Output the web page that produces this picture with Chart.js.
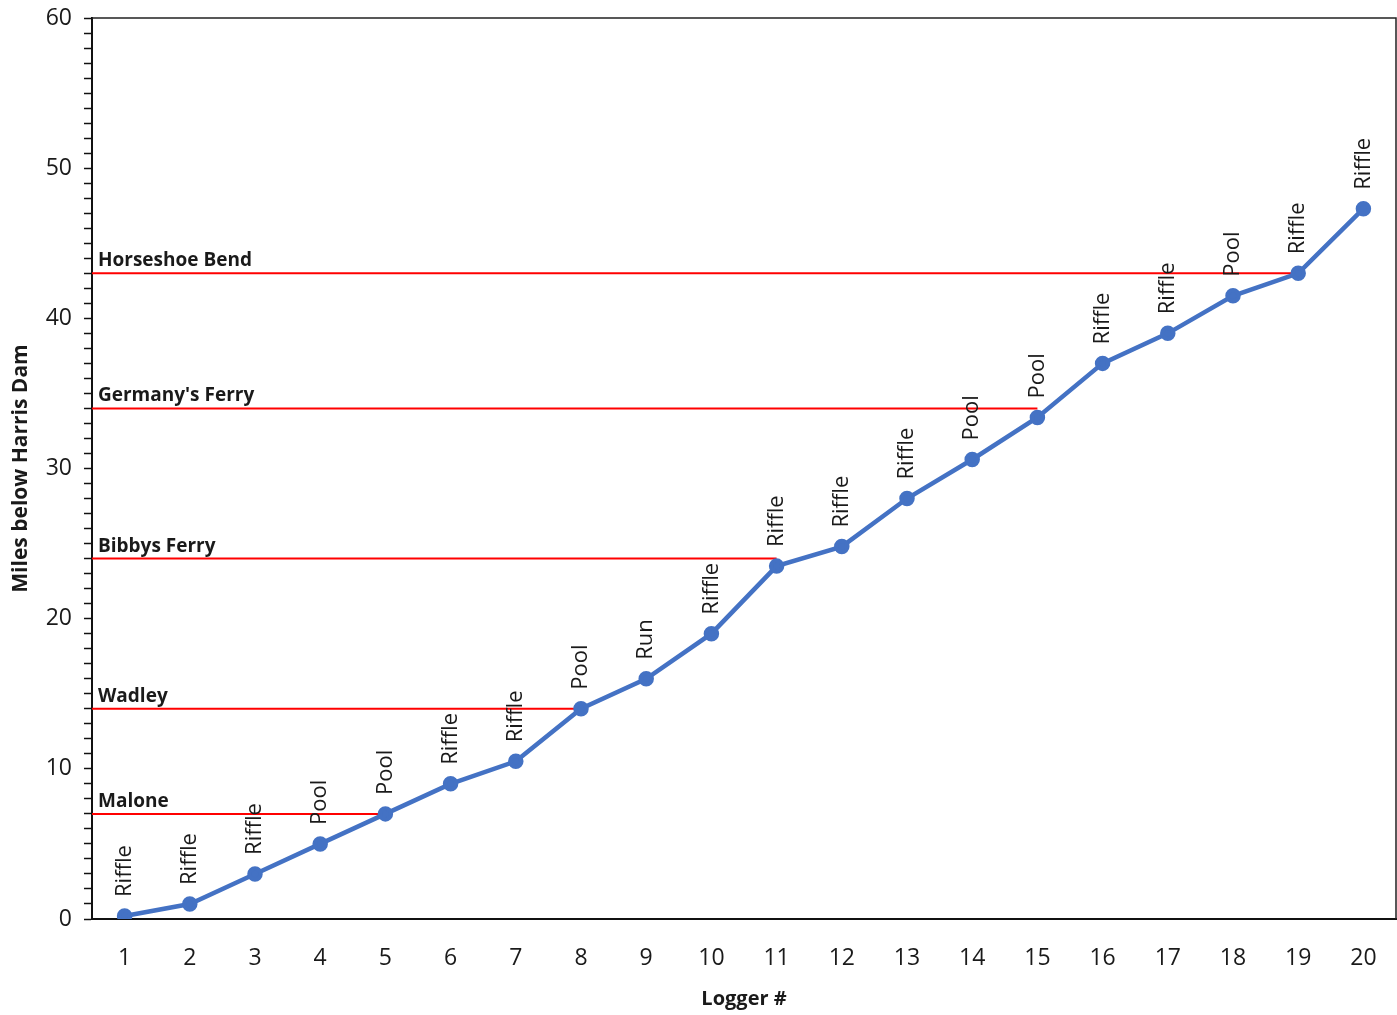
<!DOCTYPE html>
<html>
<head>
<meta charset="utf-8">
<script src="https://cdn.jsdelivr.net/npm/chart.js@4.4.1/dist/chart.umd.min.js"></script>
<style>
  html, body { margin: 0; padding: 0; background: #fff; }
  #wrap { width: 1397px; height: 1015px; }
</style>
</head>
<body>
<div id="wrap"><canvas id="loggerChart" width="1397" height="1015"></canvas></div>
<script>
/* ---------------------------------
   DATA
--------------------------------- */
const loggers = [1, 2, 3, 4, 5, 6, 7, 8, 9, 10, 11, 12, 13, 14, 15, 16, 17, 18, 19, 20];
const miles = [0.2, 1, 3, 5, 7, 9, 10.5, 14, 16, 19, 23.5, 24.8, 28, 30.6, 33.4, 37, 39, 41.5, 43, 47.3];
const habitats = ["Riffle", "Riffle", "Riffle", "Pool", "Pool", "Riffle", "Riffle", "Pool", "Run", "Riffle",
  "Riffle", "Riffle", "Riffle", "Pool", "Pool", "Riffle", "Riffle", "Pool", "Riffle", "Riffle"];
const sites = ["Malone", "Wadley", "Bibbys Ferry", "Germany's Ferry", "Horseshoe Bend"];
const siteMiles = [7, 14, 24, 34, 43];
const siteLoggers = [5, 8, 11, 15, 19];
const yTicks = [0, 10, 20, 30, 40, 50, 60];

const FONT = "'Open Sans', 'Noto Sans', sans-serif";
const TEXT = "#1a1a1a";

/* ---------------------------------
   PLUGINS
--------------------------------- */
const frame = {
  id: "frame",
  afterDatasetsDraw(chart) {
    const { ctx, chartArea: a } = chart;
    ctx.save();
    ctx.strokeStyle = "#222";
    ctx.lineWidth = 1.5;
    ctx.beginPath();
    ctx.moveTo(a.left, a.top);
    ctx.lineTo(a.right, a.top);
    ctx.lineTo(a.right, a.bottom);
    ctx.stroke();
    ctx.restore();
  }
};

const labels = {
  id: "labels",
  afterDatasetsDraw(chart) {
    const { ctx, chartArea: a } = chart;
    const xs = chart.scales.x;
    const ys = chart.scales.y;
    ctx.save();
    // site names above the red lines
    ctx.fillStyle = TEXT;
    ctx.font = "bold 19px " + FONT;
    ctx.textAlign = "left";
    ctx.textBaseline = "bottom";
    sites.forEach((s, i) => {
      ctx.fillText(s, a.left + 6, ys.getPixelForValue(siteMiles[i]) - 3);
    });
    // habitat labels, rotated, above each point
    ctx.font = "22px " + FONT;
    ctx.textAlign = "left";
    ctx.textBaseline = "middle";
    loggers.forEach((l, i) => {
      const px = xs.getPixelForValue(l);
      const py = ys.getPixelForValue(miles[i]);
      ctx.save();
      ctx.translate(px, py - 19);
      ctx.rotate(-Math.PI / 2);
      ctx.fillText(habitats[i], 0, 0);
      ctx.restore();
    });
    ctx.restore();
  }
};

/* ---------------------------------
   RENDERING
--------------------------------- */
const siteSets = sites.map((s, i) => ({
  label: s,
  data: [{ x: 0.5, y: siteMiles[i] }, { x: siteLoggers[i], y: siteMiles[i] }],
  borderColor: "#ff0000",
  borderWidth: 2,
  pointRadius: 0,
  fill: false
}));

new Chart(document.getElementById("loggerChart"), {
  type: "line",
  data: {
    datasets: [
      {
        label: "Miles",
        data: loggers.map((l, i) => ({ x: l, y: miles[i] })),
        borderColor: "#4472c4",
        backgroundColor: "#4472c4",
        borderWidth: 4.5,
        pointRadius: 5.5,
        pointHoverRadius: 5.5,
        fill: false
      },
      ...siteSets
    ]
  },
  options: {
    responsive: false,
    animation: false,
    layout: { autoPadding: false, padding: { top: 18, right: 1, left: 0, bottom: 0 } },
    plugins: {
      legend: { display: false },
      tooltip: { enabled: false }
    },
    scales: {
      x: {
        type: "linear",
        min: 0.5,
        max: 20.5,
        afterBuildTicks: (s) => { s.ticks = loggers.map((v) => ({ value: v })); },
        afterFit: (s) => { s.height = 96; s.paddingLeft = 0; s.paddingRight = 0; },
        border: { color: "#111", width: 2 },
        grid: { display: false, drawTicks: false },
        ticks: {
          color: TEXT,
          font: { family: FONT, size: 23 },
          padding: 26,
          maxRotation: 0,
          autoSkip: false
        },
        title: {
          display: true,
          text: "Logger #",
          color: TEXT,
          font: { family: FONT, size: 20, weight: "bold" },
          padding: { top: 2 }
        }
      },
      y: {
        min: 0,
        max: 60,
        afterBuildTicks: (s) => {
          const t = [];
          for (let v = 0; v <= 60; v++) t.push({ value: v });
          s.ticks = t;
        },
        afterFit: (s) => { s.width = 92; s.paddingTop = 0; s.paddingBottom = 0; },
        border: { color: "#111", width: 2 },
        grid: { drawOnChartArea: false, drawTicks: true, tickLength: 8, color: "#111", tickWidth: 1.5 },
        ticks: {
          color: TEXT,
          font: { family: FONT, size: 23 },
          padding: 12,
          autoSkip: false,
          callback: (v) => (yTicks.includes(v) ? v : "")
        },
        title: {
          display: true,
          text: "Miles below Harris Dam",
          color: TEXT,
          font: { family: FONT, size: 21, weight: "bold" },
          padding: { top: 8, bottom: 0 }
        }
      }
    }
  },
  plugins: [frame, labels]
});
</script>
</body>
</html>
